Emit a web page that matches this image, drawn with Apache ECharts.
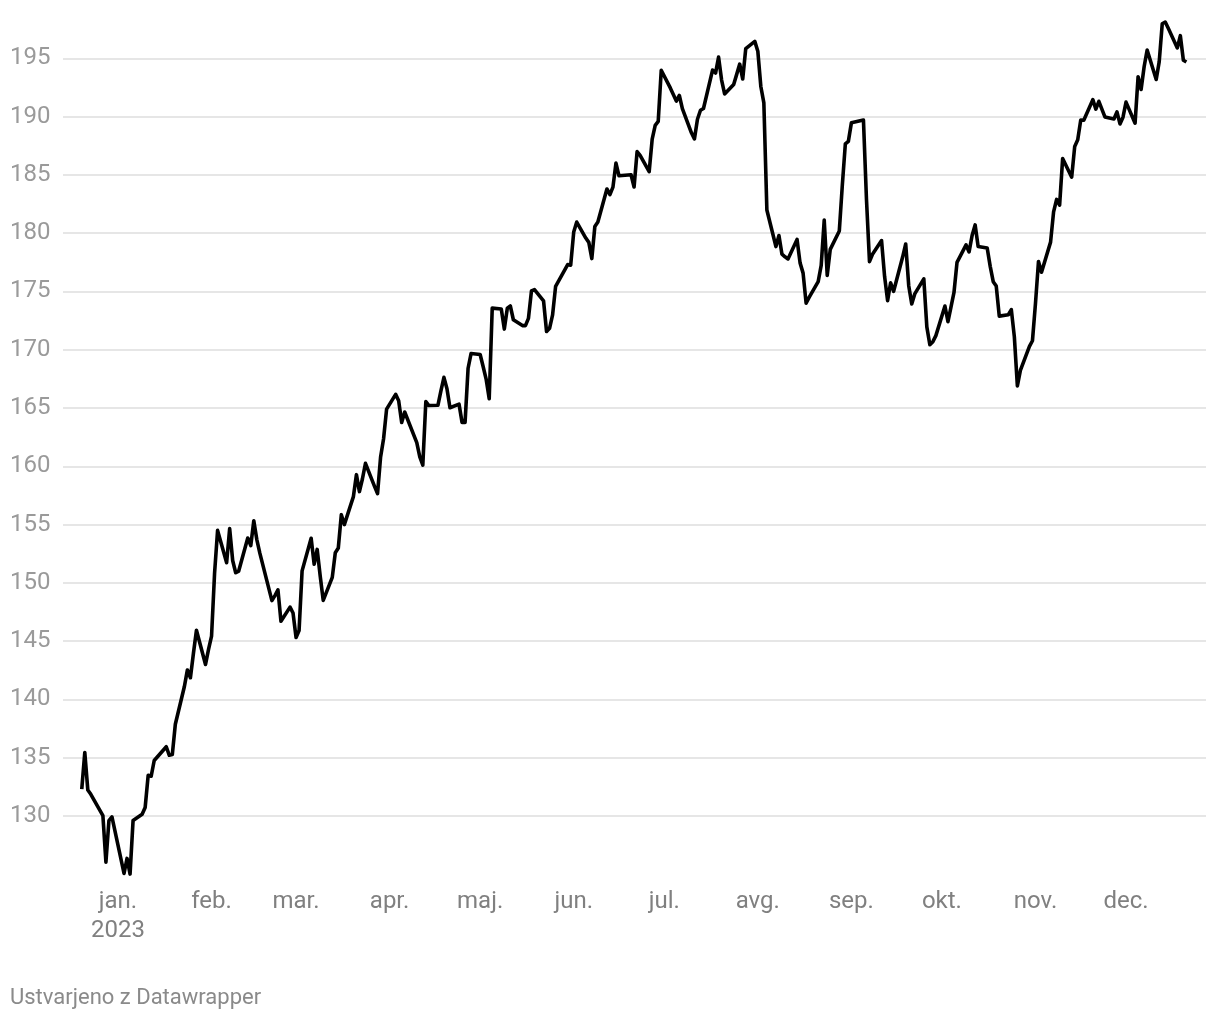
<!DOCTYPE html>
<html>
<head>
<meta charset="utf-8">
<script src="https://cdn.jsdelivr.net/npm/echarts@6/dist/echarts.min.js"></script>
<style>
html,body{margin:0;padding:0;background:#fff;}
#chart{width:1220px;height:1020px;}
</style>
</head>
<body>
<div id="chart"></div>
<script>
// Trading days (Dec 20, 2022 – Dec 21, 2023)
const dates = [
'2022-12-20','2022-12-21','2022-12-22','2022-12-23','2022-12-27','2022-12-28','2022-12-29','2022-12-30',
'2023-01-03','2023-01-04','2023-01-05','2023-01-06','2023-01-09','2023-01-10','2023-01-11','2023-01-12','2023-01-13','2023-01-17','2023-01-18','2023-01-19','2023-01-20','2023-01-23','2023-01-24','2023-01-25','2023-01-26','2023-01-27','2023-01-30','2023-01-31',
'2023-02-01','2023-02-02','2023-02-03','2023-02-06','2023-02-07','2023-02-08','2023-02-09','2023-02-10','2023-02-13','2023-02-14','2023-02-15','2023-02-16','2023-02-17','2023-02-21','2023-02-22','2023-02-23','2023-02-24','2023-02-27','2023-02-28',
'2023-03-01','2023-03-02','2023-03-03','2023-03-06','2023-03-07','2023-03-08','2023-03-09','2023-03-10','2023-03-13','2023-03-14','2023-03-15','2023-03-16','2023-03-17','2023-03-20','2023-03-21','2023-03-22','2023-03-23','2023-03-24','2023-03-27','2023-03-28','2023-03-29','2023-03-30','2023-03-31',
'2023-04-03','2023-04-04','2023-04-05','2023-04-06','2023-04-10','2023-04-11','2023-04-12','2023-04-13','2023-04-14','2023-04-17','2023-04-18','2023-04-19','2023-04-20','2023-04-21','2023-04-24','2023-04-25','2023-04-26','2023-04-27','2023-04-28',
'2023-05-01','2023-05-02','2023-05-03','2023-05-04','2023-05-05','2023-05-08','2023-05-09','2023-05-10','2023-05-11','2023-05-12','2023-05-15','2023-05-16','2023-05-17','2023-05-18','2023-05-19','2023-05-22','2023-05-23','2023-05-24','2023-05-25','2023-05-26','2023-05-30','2023-05-31',
'2023-06-01','2023-06-02','2023-06-05','2023-06-06','2023-06-07','2023-06-08','2023-06-09','2023-06-12','2023-06-13','2023-06-14','2023-06-15','2023-06-16','2023-06-20','2023-06-21','2023-06-22','2023-06-23','2023-06-26','2023-06-27','2023-06-28','2023-06-29','2023-06-30',
'2023-07-03','2023-07-05','2023-07-06','2023-07-07','2023-07-10','2023-07-11','2023-07-12','2023-07-13','2023-07-14','2023-07-17','2023-07-18','2023-07-19','2023-07-20','2023-07-21','2023-07-24','2023-07-25','2023-07-26','2023-07-27','2023-07-28','2023-07-31',
'2023-08-01','2023-08-02','2023-08-03','2023-08-04','2023-08-07','2023-08-08','2023-08-09','2023-08-10','2023-08-11','2023-08-14','2023-08-15','2023-08-16','2023-08-17','2023-08-18','2023-08-21','2023-08-22','2023-08-23','2023-08-24','2023-08-25','2023-08-28','2023-08-29','2023-08-30','2023-08-31',
'2023-09-01','2023-09-05','2023-09-06','2023-09-07','2023-09-08','2023-09-11','2023-09-12','2023-09-13','2023-09-14','2023-09-15','2023-09-18','2023-09-19','2023-09-20','2023-09-21','2023-09-22','2023-09-25','2023-09-26','2023-09-27','2023-09-28','2023-09-29',
'2023-10-02','2023-10-03','2023-10-04','2023-10-05','2023-10-06','2023-10-09','2023-10-10','2023-10-11','2023-10-12','2023-10-13','2023-10-16','2023-10-17','2023-10-18','2023-10-19','2023-10-20','2023-10-23','2023-10-24','2023-10-25','2023-10-26','2023-10-27','2023-10-30','2023-10-31',
'2023-11-01','2023-11-02','2023-11-03','2023-11-06','2023-11-07','2023-11-08','2023-11-09','2023-11-10','2023-11-13','2023-11-14','2023-11-15','2023-11-16','2023-11-17','2023-11-20','2023-11-21','2023-11-22','2023-11-24','2023-11-27','2023-11-28','2023-11-29','2023-11-30',
'2023-12-01','2023-12-04','2023-12-05','2023-12-06','2023-12-07','2023-12-08','2023-12-11','2023-12-12','2023-12-13','2023-12-14','2023-12-15','2023-12-18','2023-12-19','2023-12-20','2023-12-21'
];
const values = [
132.30,135.45,132.23,131.86,130.03,126.04,129.61,129.93,
125.07,126.36,125.02,129.62,130.15,130.73,133.49,133.41,134.76,135.94,135.21,135.27,137.87,141.11,142.53,141.86,143.96,145.93,143.00,144.29,
145.43,150.82,154.50,151.73,154.65,151.92,150.87,151.01,153.85,153.20,155.33,153.71,152.55,148.48,148.91,149.40,146.71,147.92,147.41,
145.31,145.91,151.03,153.83,151.60,152.87,150.59,148.50,150.47,152.59,152.99,155.85,155.00,157.40,159.28,157.83,158.93,160.25,158.28,157.65,160.77,162.36,164.90,
166.17,165.63,163.76,164.66,162.03,160.80,160.10,165.56,165.21,165.23,166.47,167.63,166.65,165.02,165.33,163.77,163.76,168.41,169.68,
169.59,168.54,167.45,165.79,173.57,173.50,171.77,173.56,173.75,172.57,172.07,172.07,172.69,175.05,175.16,174.20,171.56,171.84,172.99,175.43,177.30,177.25,
180.09,180.95,179.58,179.21,177.82,180.57,180.96,183.79,183.31,183.95,186.01,184.92,185.01,183.96,187.00,186.68,185.27,188.06,189.25,189.59,193.97,
192.46,191.33,191.81,190.68,188.61,188.08,189.77,190.54,190.69,193.99,193.73,195.10,193.13,191.94,192.75,193.62,194.50,193.22,195.83,196.45,
195.61,192.58,191.17,181.99,178.85,179.80,178.19,177.97,177.79,179.46,177.45,176.57,174.00,174.49,175.84,177.23,181.12,176.38,178.61,180.19,184.12,187.65,187.87,
189.46,189.70,182.91,177.56,178.18,179.36,176.30,174.21,175.74,175.01,177.97,179.07,175.49,173.93,174.79,176.08,171.96,170.43,170.69,171.21,
173.75,172.40,173.66,174.91,177.49,178.99,178.39,179.80,180.71,178.85,178.72,177.15,175.84,175.46,172.88,173.00,173.44,171.10,166.89,168.22,170.29,170.77,
173.97,177.57,176.65,179.23,181.82,182.89,182.41,186.40,184.80,187.44,188.01,189.71,189.69,191.45,190.64,191.31,189.97,189.79,190.40,189.37,189.95,
191.24,189.43,193.42,192.32,194.27,195.71,193.18,194.71,197.96,198.11,197.57,195.89,196.94,194.83,194.68
];
const monthLabels = ['jan.','feb.','mar.','apr.','maj.','jun.','jul.','avg.','sep.','okt.','nov.','dec.'];
const yearLabel = '2023';
const yTicks = [130,135,140,145,150,155,160,165,170,175,180,185,190,195];

const DAY = 86400000;
const jan1 = Date.UTC(2023,0,1);
function dayOf(s){ const p = s.split('-').map(Number); return Math.round((Date.UTC(p[0], p[1]-1, p[2]) - jan1)/DAY); }
const monthStarts = monthLabels.map((m,i)=>Math.round((Date.UTC(2023,i,1)-jan1)/DAY));
const seriesData = dates.map((d,i)=>[dayOf(d), values[i]]);

const chart = echarts.init(document.getElementById('chart'), null, {renderer:'canvas'});
chart.setOption({
  animation:false,
  backgroundColor:'#fff',
  grid:{left:63, right:14, top:0, height:874.3, containLabel:false},
  xAxis:{
    type:'value',
    min:-18.22,
    max:360.5,
    axisLine:{show:false},
    axisTick:{show:false},
    splitLine:{show:false},
    axisLabel:{
      customValues: monthStarts,
      color:'#808080',
      fontFamily:'Roboto',
      fontSize:24,
      lineHeight:29,
      margin:13,
      align:'center',
      hideOverlap:false,
      formatter:function(v){
        const m = monthStarts.indexOf(Math.round(v));
        if (m < 0) return '';
        return m === 0 ? monthLabels[m] + '\n' + yearLabel : monthLabels[m];
      }
    }
  },
  yAxis:{
    type:'value',
    min:125, max:200, interval:5,
    axisLine:{show:false},
    axisTick:{show:false},
    splitLine:{show:true, showMinLine:false, showMaxLine:false, lineStyle:{color:'#dedede', width:1.5}},
    axisLabel:{
      color:'#9a9a9a',
      fontFamily:'Roboto',
      fontSize:24,
      align:'left',
      margin:53,
      showMinLabel:false,
      showMaxLabel:false,
      formatter:function(v){ return yTicks.indexOf(v) >= 0 ? String(v) : ''; }
    }
  },
  series:[{
    type:'line',
    data:seriesData,
    symbol:'none',
    showSymbol:false,
    clip:false,
    lineStyle:{color:'#000', width:3.6, join:'round'},
    z:5
  }],
  graphic:[{
    type:'text',
    left:10,
    top:987,
    style:{text:'Ustvarjeno z Datawrapper', fill:'#8a8a8a', font:'22px Roboto'}
  }]
});
</script>
</body>
</html>
